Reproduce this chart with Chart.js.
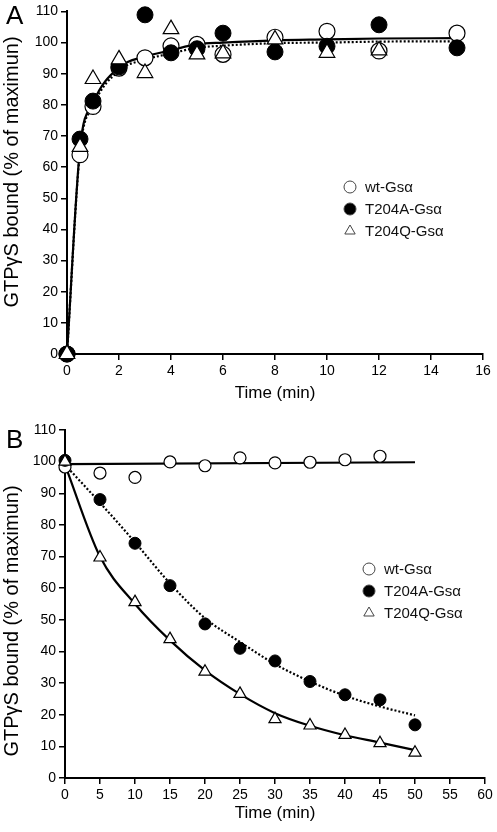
<!DOCTYPE html>
<html>
<head>
<meta charset="utf-8">
<script src="https://cdn.jsdelivr.net/npm/chart.js@4/dist/chart.umd.min.js"></script>
<style>
  body { margin: 0; background: #fff; }
  .panel { position: absolute; left: 0; }
</style>
</head>
<body>
<canvas id="chartA" class="panel" style="top:0" width="497" height="416"></canvas>
<canvas id="chartB" class="panel" style="top:416px" width="497" height="416"></canvas>
<script>
// Panel A: binding time course
const timeA = [0, 0.5, 1, 2, 3, 4, 5, 6, 8, 10, 12, 15];
const wtA = [0, 64, 79.5, 91.8, 95.1, 98.9, 99.4, 96.2, 101.7, 103.6, 97.3, 103];
const t204aA = [0, 69, 81.2, 92.2, 108.9, 96.7, 98, 103, 97, 98.8, 105.7, 98.3];
const timeQA = [0, 0.5, 1, 2, 3, 4, 5, 6, 8, 10, 12];
const t204qA = [0, 66.5, 88.3, 94.6, 90.2, 104.3, 96.2, 96.5, 101, 96.7, 97.5];
const fitSolidA = [0, 66, 80.5, 92, 95.5, 97.5, 99.5, 100, 100.7, 101, 101.3, 101.4];
const fitDottedA = [0, 65, 79.5, 91, 94.5, 96.5, 98.3, 99, 99.8, 100, 100.3, 100.4];

// Panel B: dissociation time course
const timeB = [0, 5, 10, 15, 20, 25, 30, 35, 40, 45, 50];
const wtB = [98.3, 96.4, 95, 99.9, 98.7, 101.2, 99.6, 99.8, 100.6, 101.7];
const t204aB = [100.4, 88, 74.2, 60.8, 48.7, 41, 37, 30.5, 26.3, 24.7, 16.8];
const t204qB = [100, 69.7, 55.6, 43.9, 33.6, 26.6, 18.6, 16.6, 13.6, 11, 8];
const fitWtTimeB = [0, 50];
const fitWtB = [99.2, 99.8];
const fitAB = [99, 87, 74.5, 61.5, 50.5, 43, 36, 30.5, 26, 22.6, 19.8];
const fitQB = [99, 70, 55, 43.5, 34, 26.5, 20.5, 16.5, 13.5, 11.2, 8.8];

const legendLabels = ['wt-Gs\u03b1', 'T204A-Gs\u03b1', 'T204Q-Gs\u03b1'];
const yTitle = 'GTP\u03b3S bound (% of maximun)';
const FONT = "'Liberation Sans', Arial, sans-serif";

const pts = (xs, ys) => ys.map((y, i) => ({ x: xs[i], y: y }));

function markerSets(xs1, ys1, xs2, ys2, xs3, ys3, r) {
  return [
    { data: pts(xs3, ys3), pointStyle: 'triangle', pointRadius: r + 1, backgroundColor: '#fff',
      borderColor: '#000', pointBorderWidth: 1.2, order: 1, clip: false },
    { data: pts(xs2, ys2), pointStyle: 'circle', pointRadius: r, backgroundColor: '#000',
      borderColor: '#000', pointBorderWidth: 1, order: 2, clip: false },
    { data: pts(xs1, ys1), pointStyle: 'circle', pointRadius: r, backgroundColor: '#fff',
      borderColor: '#000', pointBorderWidth: 1.2, order: 3, clip: false }
  ];
}

function fitLine(xs, ys, dotted) {
  return { data: pts(xs, ys), showLine: true, pointRadius: 0, borderColor: '#000',
    borderWidth: 2.2, borderDash: dotted ? [2, 2] : [], cubicInterpolationMode: 'monotone',
    fill: false, order: 5 };
}

// draws panel letter, y title and the in-plot legend
const decorPlugin = {
  id: 'decor',
  afterDraw(chart, args, opts) {
    const ctx = chart.ctx;
    ctx.save();
    ctx.fillStyle = '#000';
    ctx.font = '26px ' + FONT;
    ctx.textBaseline = 'top';
    ctx.fillText(opts.letter, opts.letterX, opts.letterY);

    ctx.save();
    ctx.translate(12, opts.titleY);
    ctx.rotate(-Math.PI / 2);
    ctx.font = '20px ' + FONT;
    ctx.textAlign = 'center';
    ctx.textBaseline = 'middle';
    ctx.fillText(yTitle, 0, 0);
    ctx.restore();

    const styles = [
      { pointStyle: 'circle', fill: '#fff' },
      { pointStyle: 'circle', fill: '#000' },
      { pointStyle: 'triangle', fill: '#fff' }
    ];
    ctx.font = '15px ' + FONT;
    ctx.textBaseline = 'middle';
    legendLabels.forEach((lab, i) => {
      const y = opts.legendY + i * opts.gap;
      ctx.fillStyle = styles[i].fill;
      ctx.strokeStyle = '#444';
      ctx.lineWidth = 1;
      Chart.helpers.drawPoint(ctx, { pointStyle: styles[i].pointStyle, radius: 6, rotation: 0, borderWidth: 1 },
        opts.legendX, y);
      ctx.fillStyle = '#111';
      ctx.fillText(lab, opts.legendX + 15, y + 1);
    });
    ctx.restore();
  }
};

function axes(xmax, xstep, yWidth, xHeight) {
  const grid = { drawOnChartArea: false, drawTicks: true, tickLength: 6, color: '#000', lineWidth: 1.5 };
  const border = { color: '#000', width: 2 };
  return {
    x: {
      type: 'linear', min: 0, max: xmax,
      ticks: { stepSize: xstep, color: '#000', font: { family: FONT, size: 14 }, padding: 3, maxRotation: 0 },
      grid: grid, border: border,
      title: { display: true, text: 'Time (min)', color: '#000', font: { family: FONT, size: 17 }, padding: 0 },
      afterFit: s => { s.height = xHeight; }
    },
    y: {
      min: 0, max: 110,
      ticks: { stepSize: 10, color: '#000', font: { family: FONT, size: 14 }, padding: 3 },
      grid: grid, border: border,
      afterFit: s => { s.width = yWidth; }
    }
  };
}

new Chart(document.getElementById('chartA'), {
  type: 'scatter',
  data: {
    datasets: markerSets(timeA, wtA, timeA, t204aA, timeQA, t204qA, 8).concat([
      fitLine(timeA, fitSolidA, false),
      fitLine(timeA, fitDottedA, true)
    ])
  },
  options: {
    responsive: false,
    animation: false,
    layout: { padding: { left: 0, right: 14, top: 6, bottom: 12 } },
    scales: axes(16, 2, 67, 50),
    plugins: {
      legend: { display: false },
      tooltip: { enabled: false },
      decor: { letter: 'A', letterX: 6, letterY: 4, titleY: 172, legendX: 350, legendY: 187, gap: 22 }
    }
  },
  plugins: [decorPlugin]
});

new Chart(document.getElementById('chartB'), {
  type: 'scatter',
  data: {
    datasets: markerSets(timeB, wtB, timeB, t204aB, timeB, t204qB, 6).concat([
      fitLine(fitWtTimeB, fitWtB, false),
      fitLine(timeB, fitAB, true),
      fitLine(timeB, fitQB, false)
    ])
  },
  options: {
    responsive: false,
    animation: false,
    layout: { padding: { left: 0, right: 12, top: 14, bottom: 8 } },
    scales: axes(60, 5, 65, 46),
    plugins: {
      legend: { display: false },
      tooltip: { enabled: false },
      decor: { letter: 'B', letterX: 6, letterY: 12, titleY: 205, legendX: 369, legendY: 153, gap: 22 }
    }
  },
  plugins: [decorPlugin]
});
</script>
</body>
</html>
